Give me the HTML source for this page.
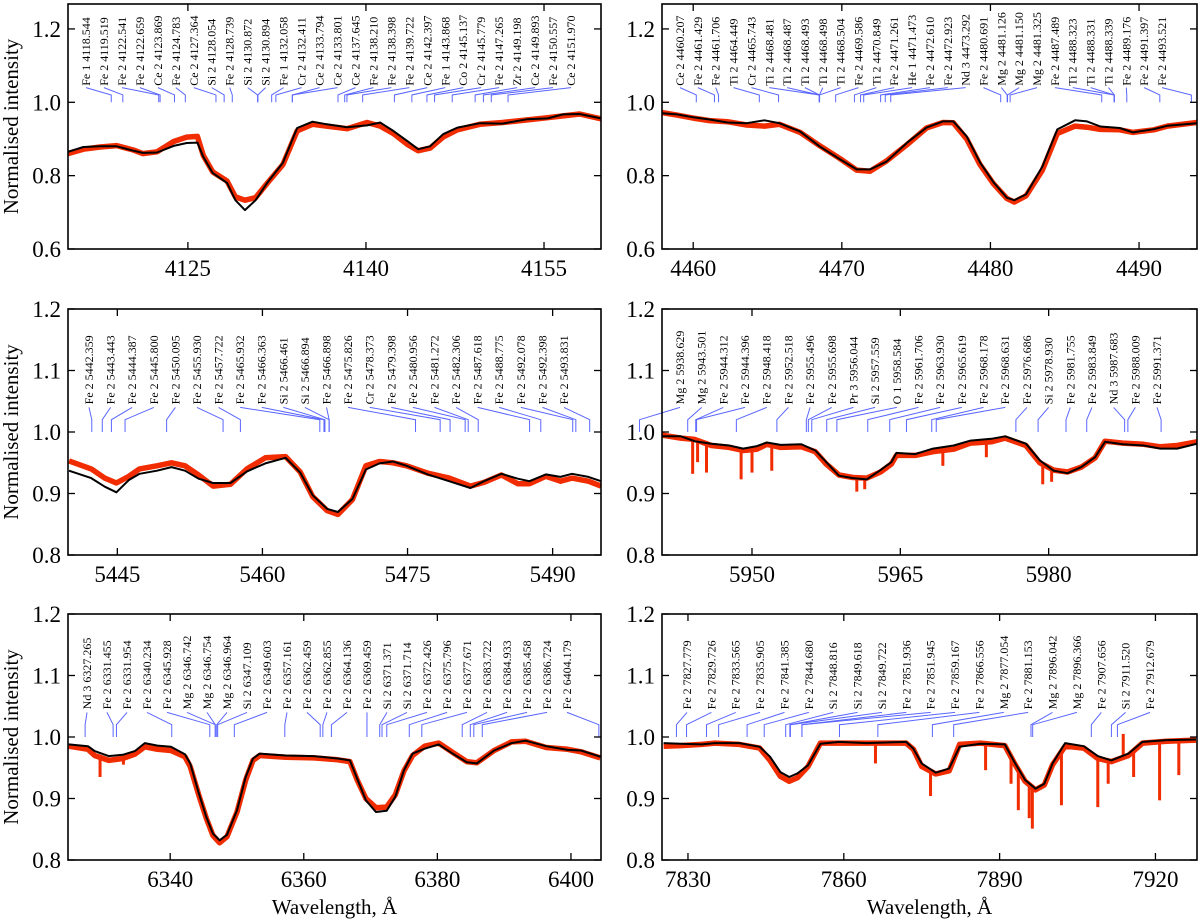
<!DOCTYPE html>
<html><head><meta charset="utf-8">
<style>
html,body{margin:0;padding:0;background:#fff;}
svg{display:block;font-family:"Liberation Serif",serif;}
</style></head>
<body>
<svg id="fig" width="1200" height="921" viewBox="0 0 1200 921"></svg>
<script>
// ---------- DATA ----------
const p1Lines = ["Fe 1 4118.544","Fe 2 4119.519","Fe 2 4122.541","Fe 2 4122.659","Ce 2 4123.869","Fe 2 4124.783","Ce 2 4127.364","Si 2 4128.054","Fe 2 4128.739","Si 2 4130.872","Si 2 4130.894","Fe 1 4132.058","Cr 2 4132.411","Ce 2 4133.794","Ce 2 4133.801","Ce 2 4137.645","Fe 2 4138.210","Fe 2 4138.398","Fe 2 4139.722","Ce 2 4142.397","Fe 1 4143.868","Co 2 4145.137","Cr 2 4145.779","Fe 2 4147.265","Zr 2 4149.198","Ce 2 4149.893","Fe 2 4150.557","Ce 2 4151.970"];
const p1Wl = [4114.9,4116.2,4117.6,4119.0,4120.4,4121.2,4122.4,4123.8,4124.9,4125.8,4126.3,4127.1,4128.3,4129.0,4129.8,4130.7,4131.7,4133.0,4134.2,4135.5,4136.7,4138.4,4140.1,4141.2,4142.3,4143.5,4144.4,4145.4,4146.5,4147.7,4149.6,4151.5,4153.6,4155.3,4156.6,4158.0,4159.8];
const p1Model = [0.865,0.878,0.88,0.88,0.868,0.862,0.863,0.881,0.889,0.89,0.851,0.807,0.78,0.733,0.706,0.733,0.781,0.835,0.93,0.947,0.94,0.932,0.937,0.945,0.922,0.894,0.872,0.88,0.913,0.931,0.943,0.942,0.954,0.956,0.967,0.968,0.956];
const p1Obs = [0.86,0.872,0.878,0.882,0.87,0.86,0.865,0.893,0.905,0.907,0.855,0.81,0.785,0.742,0.733,0.74,0.78,0.83,0.922,0.94,0.935,0.928,0.945,0.935,0.915,0.885,0.868,0.875,0.905,0.925,0.94,0.945,0.952,0.958,0.963,0.968,0.955];
const p1SpikeWl = [];
const p1SpikeVal = [];

const p2Lines = ["Ce 2 4460.207","Fe 2 4461.429","Fe 2 4461.706","Ti 2 4464.449","Cr 2 4465.743","Ti 2 4468.481","Ti 2 4468.487","Ti 2 4468.493","Ti 2 4468.498","Ti 2 4468.504","Fe 2 4469.586","Ti 2 4470.849","Fe 2 4471.261","He 1 4471.473","Fe 2 4472.610","Fe 2 4472.923","Nd 3 4473.292","Fe 2 4480.691","Mg 2 4481.126","Mg 2 4481.150","Mg 2 4481.325","Fe 2 4487.489","Ti 2 4488.323","Ti 2 4488.331","Ti 2 4488.339","Fe 2 4489.176","Fe 2 4491.397","Fe 2 4493.521"];
const p2Wl = [4457.9,4458.9,4460.0,4461.1,4462.3,4463.6,4464.8,4465.8,4467.2,4468.5,4469.9,4471.0,4471.9,4473.0,4474.4,4475.7,4476.8,4477.5,4478.4,4479.3,4480.2,4481.1,4481.6,4482.4,4483.5,4484.5,4485.7,4486.5,4487.4,4488.7,4489.6,4491.0,4491.9,4493.9];
const p2Model = [0.970,0.967,0.959,0.953,0.945,0.943,0.951,0.943,0.920,0.88,0.844,0.817,0.817,0.838,0.89,0.931,0.948,0.948,0.907,0.836,0.782,0.740,0.733,0.749,0.825,0.926,0.951,0.948,0.934,0.93,0.918,0.927,0.936,0.943];
const p2Obs = [0.972,0.965,0.957,0.95,0.947,0.938,0.935,0.94,0.918,0.882,0.846,0.815,0.812,0.84,0.885,0.93,0.945,0.944,0.9,0.83,0.778,0.738,0.728,0.745,0.815,0.915,0.935,0.932,0.926,0.925,0.918,0.925,0.935,0.945];
const p2SpikeWl = [];
const p2SpikeVal = [];

const p3Lines = ["Fe 2 5442.359","Fe 2 5443.443","Fe 2 5444.387","Fe 2 5445.800","Fe 2 5450.095","Fe 2 5455.930","Fe 2 5457.722","Fe 2 5465.932","Fe 2 5466.363","Si 2 5466.461","Si 2 5466.894","Fe 2 5466.898","Fe 2 5475.826","Cr 2 5478.373","Fe 2 5479.398","Fe 2 5480.956","Fe 2 5481.272","Fe 2 5482.306","Fe 2 5487.618","Fe 2 5488.775","Fe 2 5492.078","Fe 2 5492.398","Fe 2 5493.831"];
const p3Wl = [5440.0,5442.3,5443.7,5444.9,5446.2,5447.3,5449.1,5450.6,5452.0,5453.4,5454.9,5456.7,5458.4,5460.3,5462.4,5463.9,5465.2,5466.7,5467.8,5469.3,5470.7,5472.1,5473.5,5474.9,5477.1,5479.3,5481.5,5482.9,5484.7,5486.4,5487.6,5489.3,5490.8,5492.0,5493.7,5495.0];
const p3Model = [0.937,0.925,0.911,0.902,0.922,0.932,0.937,0.943,0.937,0.924,0.917,0.917,0.936,0.949,0.958,0.934,0.897,0.875,0.870,0.891,0.939,0.949,0.952,0.945,0.931,0.92,0.909,0.92,0.932,0.924,0.92,0.931,0.927,0.932,0.927,0.92];
const p3Obs = [0.953,0.94,0.925,0.917,0.928,0.94,0.945,0.95,0.945,0.93,0.912,0.915,0.94,0.958,0.96,0.935,0.895,0.872,0.866,0.89,0.945,0.952,0.95,0.945,0.933,0.925,0.912,0.918,0.93,0.916,0.916,0.928,0.92,0.925,0.92,0.912];
const p3SpikeWl = [];
const p3SpikeVal = [];

const p4Lines = ["Mg 2 5938.629","Mg 2 5943.501","Fe 2 5944.312","Fe 2 5944.396","Fe 2 5948.418","Fe 2 5952.518","Fe 2 5955.496","Fe 2 5955.698","Pr 3 5956.044","Si 2 5957.559","O 1 5958.584","Fe 2 5961.706","Fe 2 5963.930","Fe 2 5965.619","Fe 2 5968.178","Fe 2 5968.631","Fe 2 5976.686","Si 2 5978.930","Fe 2 5981.755","Fe 2 5983.849","Nd 3 5987.683","Fe 2 5988.009","Fe 2 5991.371"];
const p4Wl = [5940.9,5942.8,5944.2,5945.9,5947.7,5949.1,5950.5,5951.5,5952.9,5955.0,5956.4,5957.5,5958.8,5960.2,5961.6,5963.0,5964.1,5964.6,5966.5,5968.3,5970.4,5972.1,5974.2,5975.6,5977.7,5979.1,5980.5,5981.9,5983.3,5984.7,5985.7,5987.5,5989.6,5991.3,5993.0,5995.0];
const p4Model = [0.993,0.993,0.985,0.981,0.978,0.973,0.977,0.983,0.979,0.98,0.97,0.951,0.929,0.925,0.923,0.938,0.951,0.966,0.964,0.973,0.978,0.986,0.989,0.993,0.981,0.954,0.937,0.933,0.943,0.959,0.984,0.98,0.978,0.973,0.973,0.981];
const p4Obs = [0.995,0.99,0.988,0.978,0.975,0.97,0.972,0.98,0.975,0.976,0.968,0.948,0.93,0.926,0.925,0.935,0.948,0.962,0.962,0.968,0.972,0.982,0.984,0.99,0.978,0.95,0.938,0.935,0.943,0.958,0.985,0.982,0.98,0.976,0.978,0.984];
const p4SpikeWl = [5944.0,5944.5,5945.4,5948.9,5950.0,5952.0,5960.6,5961.4,5969.3,5973.7,5979.4,5980.3];
const p4SpikeVal = [0.932,0.951,0.934,0.923,0.934,0.937,0.903,0.907,0.945,0.959,0.915,0.919];

const p5Lines = ["Nd 3 6327.265","Fe 2 6331.455","Fe 2 6331.954","Fe 2 6340.234","Fe 2 6345.928","Mg 2 6346.742","Mg 2 6346.754","Mg 2 6346.964","Si 2 6347.109","Fe 2 6349.603","Fe 2 6357.161","Fe 2 6362.459","Fe 2 6362.855","Fe 2 6364.136","Fe 2 6369.459","Si 2 6371.371","Si 2 6371.714","Fe 2 6372.426","Fe 2 6375.796","Fe 2 6377.671","Fe 2 6383.722","Fe 2 6384.933","Fe 2 6385.458","Fe 2 6386.724","Fe 2 6404.179"];
const p5Wl = [6324.8,6327.7,6328.7,6330.8,6332.9,6334.7,6336.2,6338.1,6340.1,6342.2,6343.0,6344.3,6345.4,6346.4,6347.4,6348.5,6350.0,6351.3,6352.4,6353.4,6357.3,6361.5,6365.1,6366.9,6368.0,6369.3,6370.8,6372.4,6373.7,6375.0,6376.3,6378.1,6380.2,6382.3,6384.4,6385.9,6388.5,6391.1,6393.2,6396.3,6399.5,6401.5,6404.4];
const p5Model = [0.988,0.985,0.977,0.969,0.971,0.977,0.990,0.986,0.984,0.972,0.957,0.908,0.870,0.843,0.832,0.841,0.881,0.935,0.965,0.973,0.970,0.969,0.965,0.962,0.932,0.897,0.878,0.880,0.903,0.946,0.973,0.981,0.988,0.973,0.959,0.957,0.978,0.990,0.994,0.985,0.979,0.978,0.968];
const p5Obs = [0.985,0.98,0.97,0.962,0.965,0.972,0.984,0.98,0.978,0.968,0.952,0.905,0.868,0.84,0.828,0.838,0.878,0.93,0.962,0.97,0.967,0.966,0.963,0.96,0.93,0.9,0.885,0.886,0.906,0.945,0.97,0.985,0.99,0.975,0.96,0.958,0.978,0.992,0.993,0.983,0.98,0.976,0.966];
const p5SpikeWl = [6329.5,6333.0];
const p5SpikeVal = [0.935,0.955];

const p6Lines = ["Fe 2 7827.779","Fe 2 7829.726","Fe 2 7833.565","Fe 2 7835.905","Fe 2 7841.385","Fe 2 7844.680","Si 2 7848.816","Si 2 7849.618","Si 2 7849.722","Fe 2 7851.936","Fe 2 7851.945","Fe 2 7859.167","Fe 2 7866.556","Mg 2 7877.054","Fe 2 7881.153","Mg 2 7896.042","Mg 2 7896.366","Fe 2 7907.656","Si 2 7911.520","Fe 2 7912.679"];
const p6Wl = [7825.3,7828.6,7832.6,7835.2,7839.9,7843.8,7845.8,7847.8,7849.5,7851.1,7853.1,7855.5,7859.1,7864.4,7872.0,7873.4,7875.0,7877.7,7880.3,7882.3,7886.3,7891.0,7893.0,7894.9,7896.9,7898.6,7900.2,7902.6,7906.2,7908.9,7911.5,7914.8,7917.5,7922.1,7927.8];
const p6Model = [0.990,0.989,0.988,0.990,0.990,0.984,0.968,0.943,0.935,0.941,0.954,0.989,0.992,0.990,0.992,0.981,0.957,0.942,0.949,0.984,0.989,0.988,0.957,0.930,0.916,0.924,0.957,0.990,0.985,0.969,0.962,0.973,0.992,0.995,0.996];
const p6Obs = [0.985,0.986,0.988,0.99,0.988,0.982,0.962,0.936,0.928,0.934,0.952,0.99,0.99,0.99,0.99,0.98,0.952,0.94,0.945,0.988,0.99,0.986,0.955,0.928,0.914,0.922,0.955,0.985,0.982,0.965,0.96,0.97,0.99,0.993,0.995];
const p6SpikeWl = [7866.1,7876.7,7887.3,7892.2,7893.6,7895.7,7896.3,7901.9,7908.9,7910.9,7913.8,7915.8,7920.8,7924.5];
const p6SpikeVal = [0.957,0.904,0.946,0.924,0.881,0.868,0.851,0.889,0.886,0.924,1.005,0.935,0.897,0.938];

const yTicksTop = [0.6,0.8,1.0,1.2];
const yTicksLow = [0.8,0.9,1.0,1.1,1.2];
const p1XTicks = [4125,4140,4155];
const p2XTicks = [4460,4470,4480,4490];
const p3XTicks = [5445,5460,5475,5490];
const p4XTicks = [5950,5965,5980];
const p5XTicks = [6340,6360,6380,6400];
const p6XTicks = [7830,7860,7890,7920];

// ---------- LAYOUT ----------
const panels = [
 {id:'p1',x0:68,x1:601,y0:4,y1:249,xmin:4114.9,xmax:4159.8,ymin:0.6,ymax:1.268,xt:p1XTicks,yt:yTicksTop,lines:p1Lines,wl:p1Wl,model:p1Model,obs:p1Obs,sw:p1SpikeWl,sv:p1SpikeVal,la:86,lb:571,left:true,bottom:false},
 {id:'p2',x0:662,x1:1197,y0:4,y1:249,xmin:4457.9,xmax:4493.9,ymin:0.6,ymax:1.268,xt:p2XTicks,yt:yTicksTop,lines:p2Lines,wl:p2Wl,model:p2Model,obs:p2Obs,sw:p2SpikeWl,sv:p2SpikeVal,la:680,lb:1162,left:false,bottom:false},
 {id:'p3',x0:68,x1:601,y0:309,y1:555,xmin:5439.9,xmax:5495.0,ymin:0.8,ymax:1.2,xt:p3XTicks,yt:yTicksLow,lines:p3Lines,wl:p3Wl,model:p3Model,obs:p3Obs,sw:p3SpikeWl,sv:p3SpikeVal,la:89,lb:564,left:true,bottom:false},
 {id:'p4',x0:662,x1:1197,y0:309,y1:555,xmin:5940.9,xmax:5995.0,ymin:0.8,ymax:1.2,xt:p4XTicks,yt:yTicksLow,lines:p4Lines,wl:p4Wl,model:p4Model,obs:p4Obs,sw:p4SpikeWl,sv:p4SpikeVal,la:680,lb:1157,left:false,bottom:false},
 {id:'p5',x0:68,x1:601,y0:614,y1:860,xmin:6324.7,xmax:6404.5,ymin:0.8,ymax:1.2,xt:p5XTicks,yt:yTicksLow,lines:p5Lines,wl:p5Wl,model:p5Model,obs:p5Obs,sw:p5SpikeWl,sv:p5SpikeVal,la:87,lb:567,left:true,bottom:true},
 {id:'p6',x0:662,x1:1197,y0:614,y1:860,xmin:7825,xmax:7928,ymin:0.8,ymax:1.2,xt:p6XTicks,yt:yTicksLow,lines:p6Lines,wl:p6Wl,model:p6Model,obs:p6Obs,sw:p6SpikeWl,sv:p6SpikeVal,la:687,lb:1150,left:false,bottom:true}
];

const NS='http://www.w3.org/2000/svg';
const svg=document.getElementById('fig');
function mk(tag,attrs,parent){const e=document.createElementNS(NS,tag);for(const k in attrs)e.setAttribute(k,attrs[k]);(parent||svg).appendChild(e);return e;}
function interp(xs,ys,x){if(x<=xs[0])return ys[0];for(let i=1;i<xs.length;i++){if(x<=xs[i]){const t=(x-xs[i-1])/(xs[i]-xs[i-1]);return ys[i-1]+t*(ys[i]-ys[i-1]);}}return ys[ys.length-1];}

panels.forEach(p=>{
  const sx=w=>p.x0+(w-p.xmin)/(p.xmax-p.xmin)*(p.x1-p.x0);
  const sy=v=>p.y1-(v-p.ymin)/(p.ymax-p.ymin)*(p.y1-p.y0);
  const g=mk('g',{});
  
  
  const cid='clip-'+p.id;
  const cp=mk('clipPath',{id:cid},g);
  mk('rect',{x:p.x0,y:p.y0,width:p.x1-p.x0,height:p.y1-p.y0},cp);
  const data=mk('g',{'clip-path':'url(#'+cid+')'},g);
  let d='';p.wl.forEach((w,i)=>{d+=(i?'L':'M')+sx(w).toFixed(1)+','+sy(p.obs[i]).toFixed(1);});
  const obs=mk('path',{d:d,fill:'none',stroke:'#f02c00','stroke-width':5.5,'stroke-linejoin':'round'},data);
  
  
  p.sw.forEach((w,i)=>{
    const base=interp(p.wl,p.obs,w);
    const s=mk('line',{x1:sx(w),x2:sx(w),y1:sy(base),y2:sy(p.sv[i]),stroke:'#f02c00','stroke-width':3},data);
    
    
  });
  d='';p.wl.forEach((w,i)=>{d+=(i?'L':'M')+sx(w).toFixed(1)+','+sy(p.model[i]).toFixed(1);});
  const mod=mk('path',{d:d,fill:'none',stroke:'#000','stroke-width':2,'stroke-linejoin':'round'},data);
  
  
  const n=p.lines.length;
  const tb=sy(1.045), ss=sy(1.04), se=sy(1.02), lv=sy(1.0);
  p.lines.forEach((txt,i)=>{
    const lx=p.la+(n>1?i*(p.lb-p.la)/(n-1):0);
    const w=parseFloat(txt.split(' ')[2]);
    const wx=sx(w);
    const c=mk('polyline',{points:lx+','+ss+' '+wx+','+se+' '+wx+','+lv,fill:'none',stroke:'#5a66ff','stroke-width':1},g);
    
    
    const t=mk('text',{x:lx+4,y:tb,'font-size':12,'text-anchor':'start',transform:'rotate(-90 '+(lx+4)+' '+tb+')',fill:'#000'},g);
    t.textContent=txt;
    
    
  });
  p.xt.forEach(v=>{
    const x=sx(v);
    mk('line',{x1:x,x2:x,y1:p.y1,y2:p.y1-7,stroke:'#000','stroke-width':1.3},g);
    mk('line',{x1:x,x2:x,y1:p.y0,y2:p.y0+7,stroke:'#000','stroke-width':1.3},g);
    const t=mk('text',{x:x,y:p.y1+27,'font-size':23,'text-anchor':'middle'},g);
    t.textContent=v;
    
    
  });
  p.yt.forEach(v=>{
    const y=sy(v);
    mk('line',{x1:p.x0,x2:p.x0+7,y1:y,y2:y,stroke:'#000','stroke-width':1.3},g);
    mk('line',{x1:p.x1,x2:p.x1-7,y1:y,y2:y,stroke:'#000','stroke-width':1.3},g);
    const t=mk('text',{x:p.x0-7,y:y+8,'font-size':23,'text-anchor':'end'},g);
    t.textContent=v.toFixed(1);
    
    
  });
  const fr=mk('rect',{x:p.x0,y:p.y0,width:p.x1-p.x0,height:p.y1-p.y0,fill:'none',stroke:'#000','stroke-width':1.6},g);
  
  
  if(p.left){
    const cy=(p.y0+p.y1)/2;
    const t=mk('text',{x:18,y:cy,'font-size':21,'text-anchor':'middle',transform:'rotate(-90 18 '+cy+')'},g);
    t.textContent='Normalised intensity';
    
    
  }
  if(p.bottom){
    const cx=(p.x0+p.x1)/2;
    const t=mk('text',{x:cx,y:914,'font-size':21,'text-anchor':'middle'},g);
    t.textContent='Wavelength, Å';
    
    
  }
});
</script>
</body></html>
